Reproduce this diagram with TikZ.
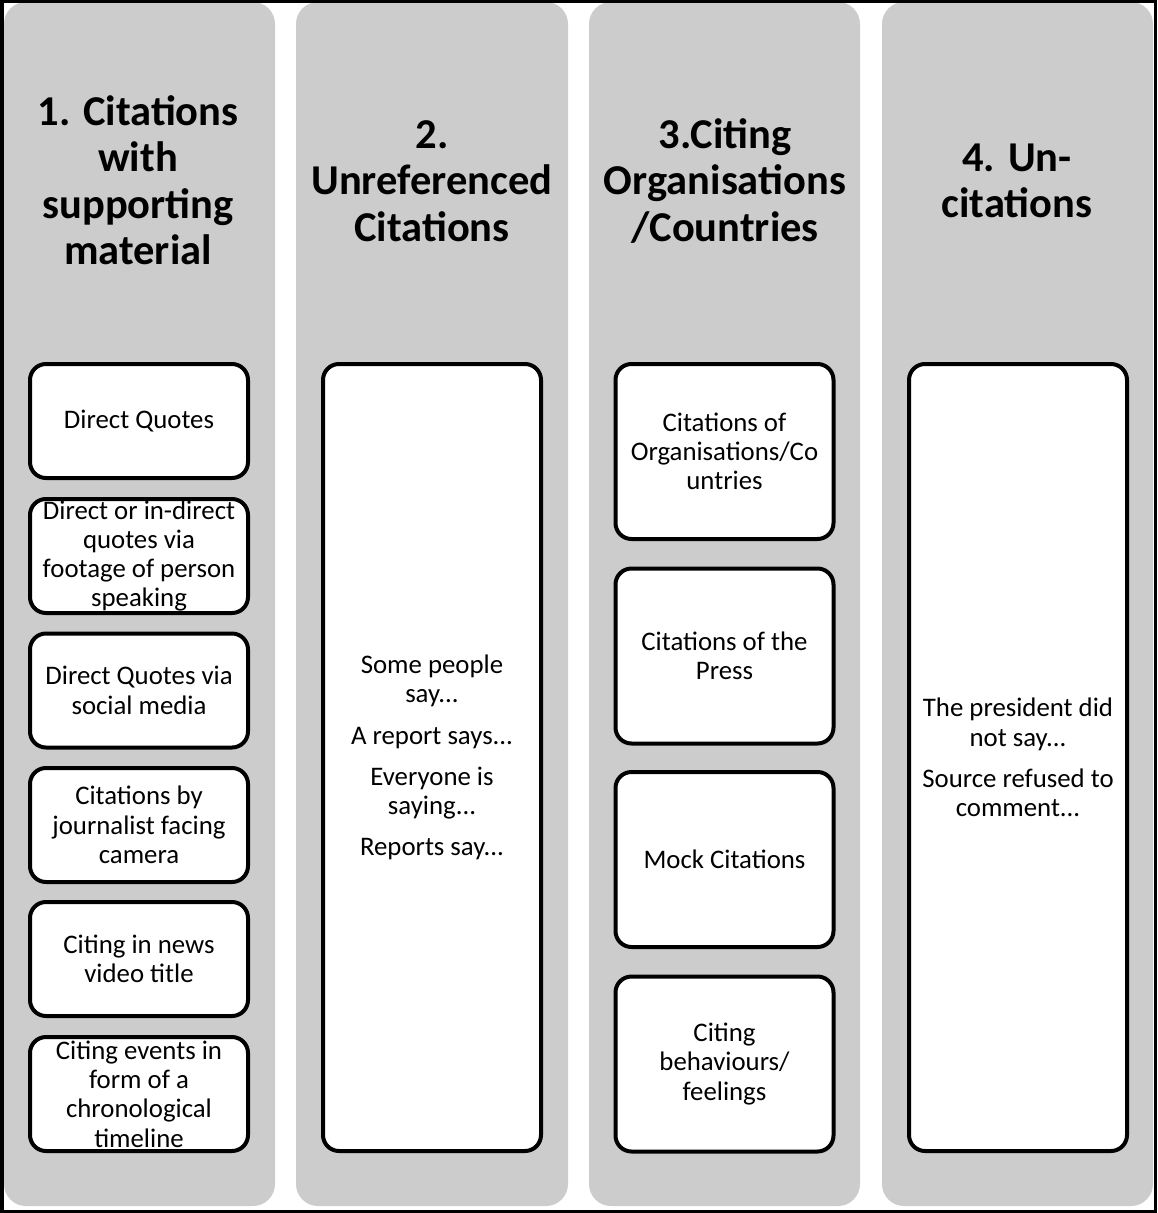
\documentclass[tikz,border=0pt]{standalone}
\usepackage{fontspec}
\setmainfont{Carlito}
\begin{document}
\begin{tikzpicture}[x=1pt,y=-1pt,
  column/.style={fill=colgray, draw=none, rounded corners=22pt},
  headtext/.style={font=\bfseries\fontsize{42.5}{46.5}\selectfont, align=center, inner sep=0pt, text=black},
  itembox/.style={draw=black, line width=4pt, fill=white, rounded corners=16pt, align=center, inner sep=0pt,
     font=\fontsize{26.8}{29.3}\selectfont, minimum width=218pt},
  smallbox/.style={itembox, minimum height=114pt},
  midbox/.style={itembox, minimum height=175pt},
  tallbox/.style={itembox, minimum height=787pt}
]
\definecolor{colgray}{RGB}{204,204,204}
\useasboundingbox (0,0) rectangle (1157,1213);
% columns
\fill[column] (4,2) rectangle (275,1206);
\fill[column] (296,2) rectangle (568,1206);
\fill[column] (589,2) rectangle (860,1206);
\fill[column] (882,2) rectangle (1153,1206);
% frame
\draw[line width=3pt] (1.5,1.5) rectangle (1155.5,1211.5);
\draw[line width=2pt] (3,1) -- (3,1212);
% headings
\node[headtext] (h1) at (138,180) {1. Citations\\with\\supporting\\material};
\node[headtext] (h2) at (432,181) {2.\\Unreferenced\\Citations};
\node[headtext] (h3) at (725,181) {3.Citing\\Organisations\\/Countries};
\node[headtext] (h4) at (1017,181) {4. Un-\\citations};
% column 1
\node[smallbox] (a1) at (139,421) {Direct Quotes};
\node[smallbox] (a2) at (139,556) {Direct or in-direct\\quotes via\\footage of person\\speaking};
\node[smallbox] (a3) at (139,690.5) {Direct Quotes via\\social media};
\node[smallbox] (a4) at (139,825) {Citations by\\journalist facing\\camera};
\node[smallbox] (a5) at (139,959) {Citing in news\\video title};
\node[smallbox] (a6) at (139,1094) {Citing events in\\form of a\\chronological\\timeline};
% column 2
\node[tallbox] (b1) at (432,757.5) {Some people\\say...\\[12pt]A report says...\\[12pt]Everyone is\\saying...\\[12pt]Reports say...};
% column 3
\node[midbox] (c1) at (724.5,451.5) {Citations of\\Organisations/Co\\untries};
\node[midbox] (c2) at (724.5,656) {Citations of the\\Press};
\node[midbox] (c3) at (724.5,859.5) {Mock Citations};
\node[midbox] (c4) at (724.5,1064) {Citing\\behaviours/\\feelings};
% column 4
\node[tallbox] (d1) at (1018,757.5) {The president did\\not say...\\[12pt]Source refused to\\comment...};
\end{tikzpicture}
\end{document}
